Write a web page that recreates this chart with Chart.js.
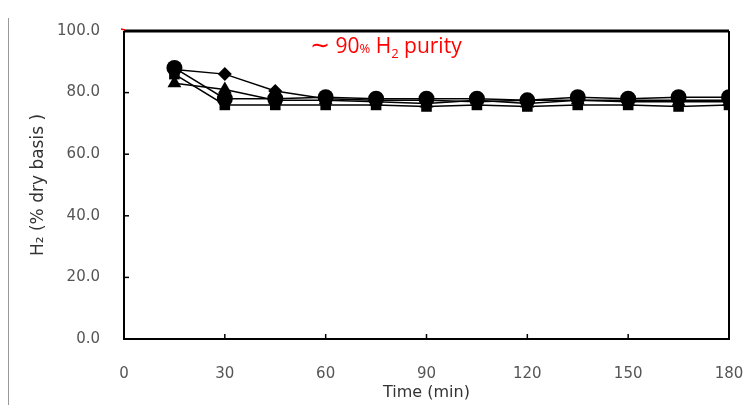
<!DOCTYPE html>
<html>
<head>
<meta charset="utf-8">
<script src="https://cdn.jsdelivr.net/npm/chart.js@4/dist/chart.umd.min.js"></script>
<style>
  html, body { margin: 0; padding: 0; background: #fff; }
  #wrap { width: 748px; height: 405px; position: relative; }
</style>
</head>
<body>
<div id="wrap"><canvas id="h2chart" width="748" height="405"></canvas></div>
<script>
//*Data
const times = [15, 30, 45, 60, 75, 90, 105, 120, 135, 150, 165, 180];
const diamondRun  = [87.5, 86.0, 80.5, 78.0, 77.5, 77.5, 77.0, 77.5, 77.5, 77.5, 77.5, 77.5];
const circleRun   = [88.0, 78.0, 78.0, 78.5, 78.0, 78.0, 78.0, 77.5, 78.5, 78.0, 78.5, 78.5];
const triangleRun = [83.0, 81.0, 77.5, 77.5, 77.0, 76.5, 77.5, 76.5, 77.5, 77.0, 77.0, 77.0];
const squareRun   = [86.0, 76.0, 76.0, 76.0, 76.0, 75.5, 76.0, 75.5, 76.0, 76.0, 75.5, 76.0];
const xTicks = [0, 30, 60, 90, 120, 150, 180];
const yTicks = [0, 20, 40, 60, 80, 100];

const toPoints = arr => arr.map((v, i) => ({ x: times[i], y: v }));

const series = (data, style, r) => ({
  data: toPoints(data),
  borderColor: '#000',
  backgroundColor: '#000',
  borderWidth: 1.5,
  pointStyle: style,
  pointRadius: r,
  pointBorderWidth: 0,
  tension: 0,
});

//*Frame, inside ticks and annotation
const framePlugin = {
  id: 'frame',
  afterDraw(chart) {
    const { ctx, chartArea: a, scales } = chart;
    ctx.save();
    // page edge line
    ctx.strokeStyle = '#999';
    ctx.lineWidth = 1;
    ctx.beginPath();
    ctx.moveTo(8.5, 18); ctx.lineTo(8.5, 405);
    ctx.stroke();

    ctx.strokeStyle = '#000';
    ctx.lineWidth = 2;
    ctx.beginPath();
    ctx.moveTo(a.left, a.top); ctx.lineTo(a.left, a.bottom); ctx.lineTo(a.right, a.bottom); ctx.lineTo(a.right, a.top);
    ctx.stroke();
    ctx.lineWidth = 3;
    ctx.beginPath();
    ctx.moveTo(a.left, a.top); ctx.lineTo(a.right, a.top);
    ctx.stroke();

    // inside ticks
    ctx.lineWidth = 1.5;
    xTicks.forEach(t => {
      const x = scales.x.getPixelForValue(t);
      ctx.beginPath(); ctx.moveTo(x, a.bottom); ctx.lineTo(x, a.bottom - 5); ctx.stroke();
    });
    yTicks.forEach(t => {
      const y = scales.y.getPixelForValue(t);
      ctx.beginPath(); ctx.moveTo(a.left, y); ctx.lineTo(a.left + 5, y); ctx.stroke();
    });

    // small red mark at corner
    ctx.strokeStyle = '#e00';
    ctx.lineWidth = 1.5;
    ctx.beginPath(); ctx.moveTo(a.left - 3, a.top - 2); ctx.lineTo(a.left + 1, a.top - 1); ctx.stroke();

    // ~90% H2 purity
    ctx.fillStyle = '#f00';
    ctx.textBaseline = 'alphabetic';
    let x = 310;
    const base = 53;
    const parts = [
      ['∼', 24, 0],
      [' 90', 21, 0],
      ['%', 13, 0],
      [' H', 21, 0],
      ['2', 13, 5],
      [' purity', 21, 0],
    ];
    parts.forEach(([txt, size, dy]) => {
      ctx.font = size + 'px "Open Sans", sans-serif';
      ctx.fillText(txt, x, base + dy);
      x += ctx.measureText(txt).width;
    });
    ctx.restore();
  }
};

const ctx = document.getElementById('h2chart').getContext('2d');
const chart = new Chart(ctx, {
  type: 'line',
  data: {
    datasets: [
      series(squareRun, 'rect', 7.5),
      series(triangleRun, 'triangle', 8),
      series(circleRun, 'circle', 8),
      series(diamondRun, 'rectRot', 7),
    ],
  },
  options: {
    responsive: false,
    animation: false,
    devicePixelRatio: 1,
    layout: { padding: { top: 31, right: 19, bottom: 3, left: 8 } },
    plugins: { legend: { display: false }, tooltip: { enabled: false } },
    scales: {
      x: {
        type: 'linear',
        min: 0, max: 180,
        afterBuildTicks: s => { s.ticks = xTicks.map(v => ({ value: v })); },
        afterFit: s => { s.height = 63; s.paddingLeft = 0; s.paddingRight = 0; },
        grid: { display: false, drawTicks: false },
        border: { display: false },
        ticks: { padding: 26, color: '#555', font: { family: '"DejaVu Sans", sans-serif', size: 15 } },
        title: { display: true, text: 'Time (min)', color: '#333', padding: { top: 0, bottom: 0 },
                 font: { family: '"DejaVu Sans", sans-serif', size: 16 } },
      },
      y: {
        min: 0, max: 100,
        afterBuildTicks: s => { s.ticks = yTicks.map(v => ({ value: v })); },
        afterFit: s => { s.width = 116; s.paddingTop = 0; s.paddingBottom = 0; },
        grid: { display: false, drawTicks: false },
        border: { display: false },
        ticks: { padding: 24, color: '#555', font: { family: '"DejaVu Sans", sans-serif', size: 15 },
                 callback: v => v.toFixed(1) },
        title: { display: true, text: 'H₂ (% dry basis )', color: '#333', padding: { top: 20, bottom: 0 },
                 font: { family: '"DejaVu Sans", sans-serif', size: 17 } },
      },
    },
  },
  plugins: [framePlugin],
});
</script>
</body>
</html>
